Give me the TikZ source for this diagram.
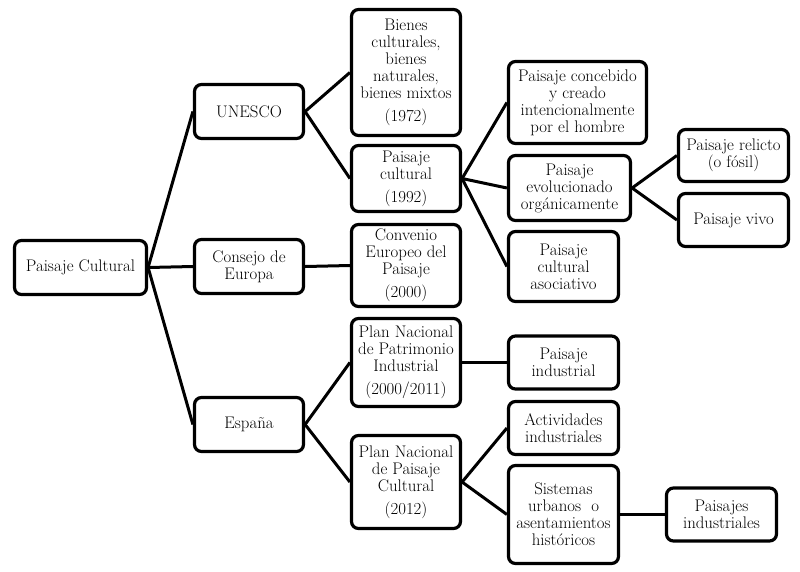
\documentclass[tikz,border=0pt]{standalone}
\begin{document}
\begin{tikzpicture}[x=1pt,y=-1pt,
  box/.style={draw, line width=3.2pt, rounded corners=7pt, align=center, inner sep=2pt,
    font=\fontsize{16.8}{17}\selectfont},
  link/.style={line width=3pt}]
\useasboundingbox (0,0) rectangle (800,571);
% level 0
\node[box, minimum width=132pt, minimum height=54pt] (pc) at (80.5,267.5) {Paisaje Cultural};
% level 1
\node[box, minimum width=109pt, minimum height=54pt] (unesco) at (249,111.5) {UNESCO};
\node[box, minimum width=109pt, minimum height=54pt] (consejo) at (249,266.5) {Consejo de\\Europa};
\node[box, minimum width=109pt, minimum height=54pt] (espana) at (249,424.5) {España};
% level 2
\node[box, minimum width=109pt, minimum height=126pt] (bienes) at (406,72.5) {Bienes\\culturales,\\bienes\\naturales,\\bienes mixtos\\[6pt](1972)};
\node[box, minimum width=109pt, minimum height=66pt] (pcult) at (406,178.5) {Paisaje\\cultural\\[6pt](1992)};
\node[box, minimum width=109pt, minimum height=82pt] (convenio) at (406,265.5) {Convenio\\Europeo del\\Paisaje\\[6pt](2000)};
\node[box, minimum width=109pt, minimum height=88pt] (pnpi) at (406,362.5) {Plan Nacional\\de Patrimonio\\Industrial\\[6pt](2000/2011)};
\node[box, minimum width=109pt, minimum height=93pt] (pnpc) at (406,482) {Plan Nacional\\de Paisaje\\Cultural\\[6pt](2012)};
% level 3
\node[box, minimum width=138pt, minimum height=82pt] (concebido) at (577.5,102.5) {Paisaje concebido\\y creado\\intencionalmente\\por el hombre};
\node[box, minimum width=122pt, minimum height=65pt] (evol) at (569.5,188) {Paisaje\\evolucionado\\orgánicamente};
\node[box, minimum width=110pt, minimum height=70pt] (asoc) at (563.5,266.5) {Paisaje\\cultural\\asociativo};
\node[box, minimum width=110pt, minimum height=53pt] (pind) at (563.5,362.5) {Paisaje\\industrial};
\node[box, minimum width=110pt, minimum height=53pt] (activ) at (563.5,428) {Actividades\\industriales};
\node[box, minimum width=110pt, minimum height=98pt] (sist) at (563.5,514.5) {Sistemas\\urbanos\ \ o\\asentamientos\\históricos};
% level 4
\node[box, minimum width=110pt, minimum height=52pt] (relicto) at (733.5,155.5) {Paisaje relicto\\(o fósil)};
\node[box, minimum width=110pt, minimum height=53pt] (vivo) at (733.5,220) {Paisaje vivo};
\node[box, minimum width=110pt, minimum height=53pt] (pinds) at (721.5,514.5) {Paisajes\\industriales};
% connectors
\draw[link] (pc.east) -- (unesco.west);
\draw[link] (pc.east) -- (consejo.west);
\draw[link] (pc.east) -- (espana.west);
\draw[link] (unesco.east) -- (bienes.west);
\draw[link] (unesco.east) -- (pcult.west);
\draw[link] (consejo.east) -- (convenio.west);
\draw[link] (espana.east) -- (pnpi.west);
\draw[link] (espana.east) -- (pnpc.west);
\draw[link] (pcult.east) -- (concebido.west);
\draw[link] (pcult.east) -- (evol.west);
\draw[link] (pcult.east) -- (asoc.west);
\draw[link] (evol.east) -- (relicto.west);
\draw[link] (evol.east) -- (vivo.west);
\draw[link] (pnpi.east) -- (pind.west);
\draw[link] (pnpc.east) -- (activ.west);
\draw[link] (pnpc.east) -- (sist.west);
\draw[link] (sist.east) -- (pinds.west);
\end{tikzpicture}
\end{document}
